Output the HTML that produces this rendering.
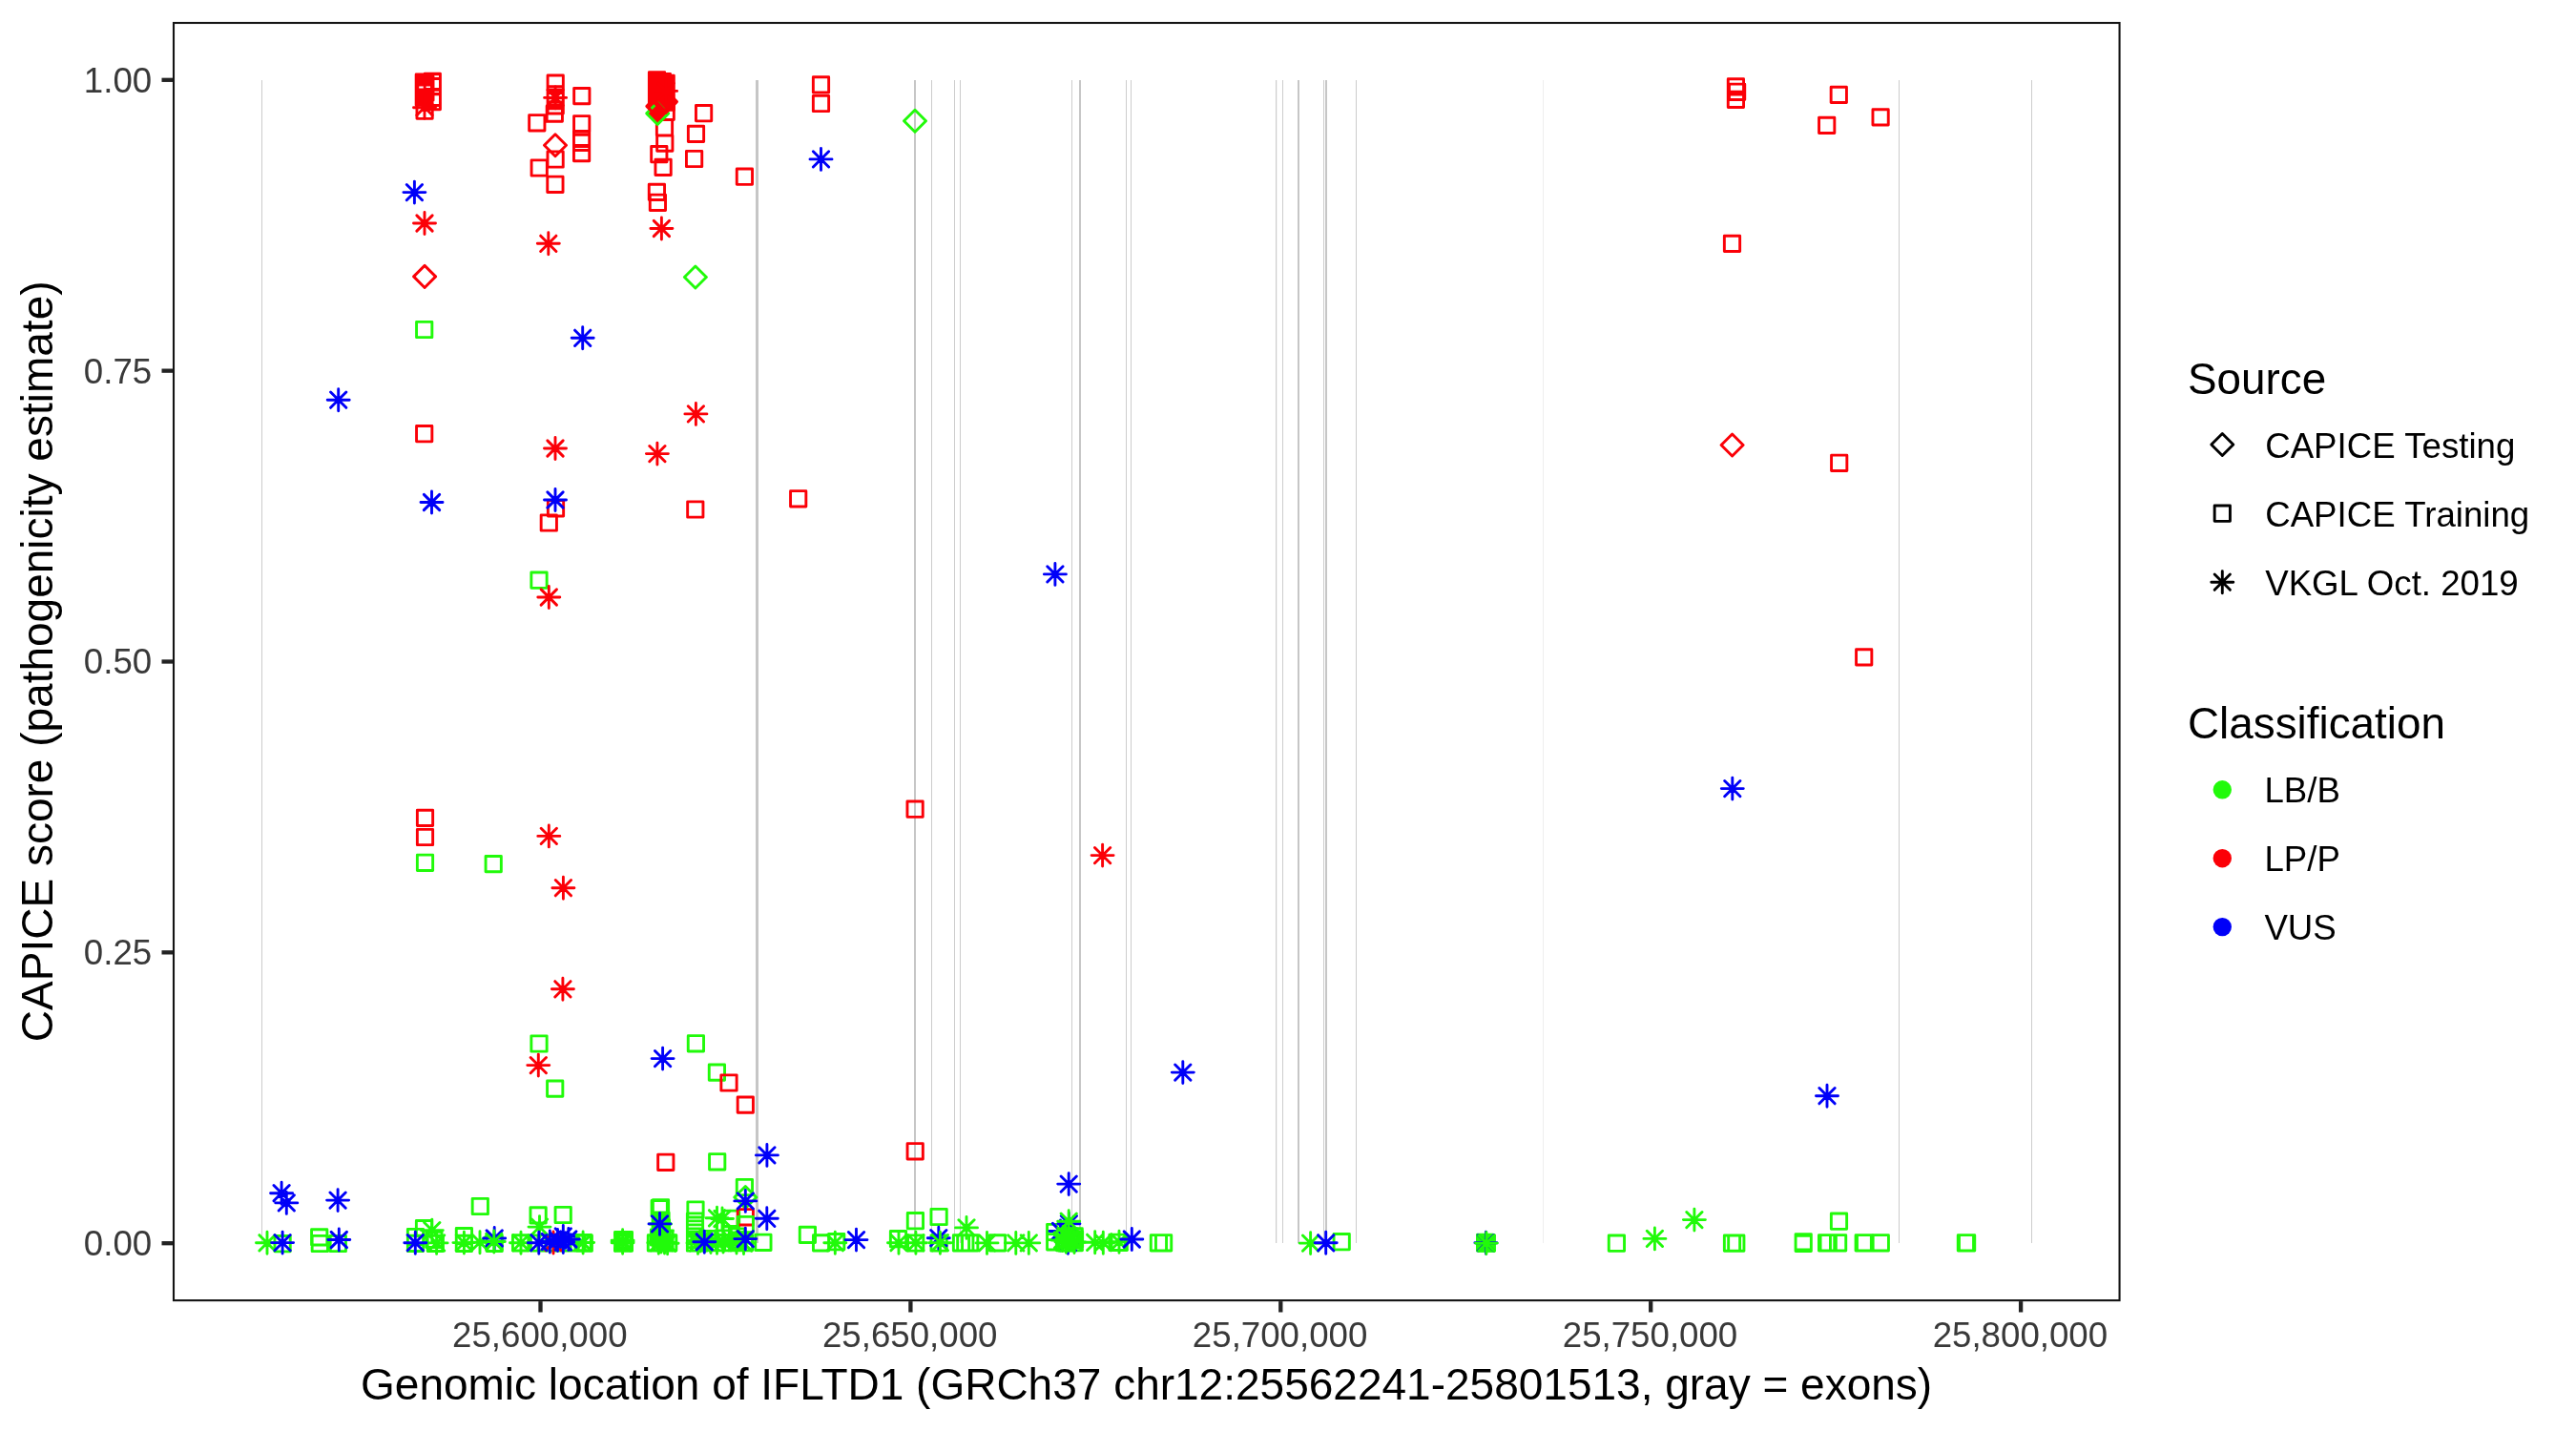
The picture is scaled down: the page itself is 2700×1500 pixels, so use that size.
<!DOCTYPE html><html><head><meta charset="utf-8"><title>CAPICE IFLTD1</title><style>html,body{margin:0;padding:0;background:#fff}svg{display:block;will-change:transform}text{font-family:"Liberation Sans",sans-serif}</style></head><body>
<svg width="2700" height="1500" viewBox="0 0 2700 1500">
<rect width="2700" height="1500" fill="#fff"/>
<rect x="274" y="84" width="1" height="1219" fill="#cccccc"/>
<rect x="792" y="84" width="3" height="1219" fill="#c6c6c6"/>
<rect x="958" y="84" width="2" height="1219" fill="#c6c6c6"/>
<rect x="976" y="84" width="1" height="1219" fill="#cccccc"/>
<rect x="1000" y="84" width="1" height="1219" fill="#cccccc"/>
<rect x="1006" y="84" width="1" height="1219" fill="#cccccc"/>
<rect x="1123" y="84" width="1" height="1219" fill="#cccccc"/>
<rect x="1131" y="84" width="2" height="1219" fill="#c6c6c6"/>
<rect x="1180" y="84" width="1" height="1219" fill="#cccccc"/>
<rect x="1185" y="84" width="1" height="1219" fill="#cccccc"/>
<rect x="1337" y="84" width="1" height="1219" fill="#cccccc"/>
<rect x="1338" y="84" width="1" height="1219" fill="#f4f4f4"/>
<rect x="1344" y="84" width="1" height="1219" fill="#cccccc"/>
<rect x="1360" y="84" width="2" height="1219" fill="#c6c6c6"/>
<rect x="1387" y="84" width="1" height="1219" fill="#cccccc"/>
<rect x="1389" y="84" width="2" height="1219" fill="#c6c6c6"/>
<rect x="1421" y="84" width="1" height="1219" fill="#cccccc"/>
<rect x="1617" y="84" width="1" height="1219" fill="#eeeeee"/>
<rect x="1990" y="84" width="1" height="1219" fill="#cccccc"/>
<rect x="2129" y="84" width="1" height="1219" fill="#cccccc"/>
<path d="M947.49 126.8L959 138.31L970.51 126.8L959 115.29zM717.39 290.5L728.9 302.01L740.41 290.5L728.9 278.99zM769.79 1255L781.3 1266.51L792.81 1255L781.3 1243.49z" fill="none" stroke="#21fa0a" stroke-width="2.9" stroke-linecap="round" stroke-linejoin="round"/>
<path d="M570.49 152.2L582 163.71L593.51 152.2L582 140.69zM433.59 289.9L445.1 301.41L456.61 289.9L445.1 278.39zM1804.09 466.5L1815.6 478.01L1827.11 466.5L1815.6 454.99z" fill="none" stroke="#fb0007" stroke-width="2.9" stroke-linecap="round" stroke-linejoin="round"/>
<rect x="1547" y="1293.2" width="20.8" height="19.4" rx="1.5" fill="#21fa0a"/>
<path d="M436.56 337.36h16.28v16.28h-16.28zM556.86 600.06h16.28v16.28h-16.28zM437.36 896.16h16.28v16.28h-16.28zM509.06 897.46h16.28v16.28h-16.28zM556.86 1085.86h16.28v16.28h-16.28zM573.56 1132.96h16.28v16.28h-16.28zM721.26 1085.66h16.28v16.28h-16.28zM743.26 1115.96h16.28v16.28h-16.28zM743.56 1209.66h16.28v16.28h-16.28zM772.26 1236.36h16.28v16.28h-16.28zM287.96 1295.56h16.28v16.28h-16.28zM326.56 1288.76h16.28v16.28h-16.28zM327.16 1295.36h16.28v16.28h-16.28zM346.16 1295.36h16.28v16.28h-16.28zM427.36 1288.36h16.28v16.28h-16.28zM427.36 1295.26h16.28v16.28h-16.28zM436.36 1279.46h16.28v16.28h-16.28zM448.16 1295.26h16.28v16.28h-16.28zM446.76 1291.26h16.28v16.28h-16.28zM478.26 1287.46h16.28v16.28h-16.28zM478.26 1295.26h16.28v16.28h-16.28zM495.16 1256.36h16.28v16.28h-16.28zM510.06 1295.26h16.28v16.28h-16.28zM537.46 1294.76h16.28v16.28h-16.28zM555.96 1265.76h16.28v16.28h-16.28zM582.06 1265.36h16.28v16.28h-16.28zM556.36 1294.86h16.28v16.28h-16.28zM563.86 1294.86h16.28v16.28h-16.28zM571.86 1294.86h16.28v16.28h-16.28zM581.86 1294.86h16.28v16.28h-16.28zM589.86 1294.86h16.28v16.28h-16.28zM596.86 1294.86h16.28v16.28h-16.28zM602.96 1294.36h16.28v16.28h-16.28zM604.16 1295.06h16.28v16.28h-16.28zM645.36 1293.36h16.28v16.28h-16.28zM684.36 1257.76h16.28v16.28h-16.28zM683.06 1258.46h16.28v16.28h-16.28zM684.86 1270.96h16.28v16.28h-16.28zM684.36 1275.86h16.28v16.28h-16.28zM679.26 1294.76h16.28v16.28h-16.28zM685.56 1294.76h16.28v16.28h-16.28zM692.56 1294.76h16.28v16.28h-16.28zM682.36 1288.86h16.28v16.28h-16.28zM688.86 1291.36h16.28v16.28h-16.28zM720.86 1259.86h16.28v16.28h-16.28zM720.36 1271.86h16.28v16.28h-16.28zM720.36 1275.86h16.28v16.28h-16.28zM720.36 1279.86h16.28v16.28h-16.28zM720.36 1283.86h16.28v16.28h-16.28zM720.36 1287.86h16.28v16.28h-16.28zM720.36 1294.86h16.28v16.28h-16.28zM724.86 1294.86h16.28v16.28h-16.28zM758.46 1269.16h16.28v16.28h-16.28zM743.36 1294.56h16.28v16.28h-16.28zM757.56 1294.56h16.28v16.28h-16.28zM758.06 1285.76h16.28v16.28h-16.28zM772.26 1294.56h16.28v16.28h-16.28zM749.86 1289.86h16.28v16.28h-16.28zM764.86 1291.86h16.28v16.28h-16.28zM791.76 1294.16h16.28v16.28h-16.28zM838.26 1286.26h16.28v16.28h-16.28zM852.46 1294.76h16.28v16.28h-16.28zM868.56 1293.56h16.28v16.28h-16.28zM933.36 1290.46h16.28v16.28h-16.28zM951.26 1271.56h16.28v16.28h-16.28zM951.56 1294.86h16.28v16.28h-16.28zM975.96 1267.36h16.28v16.28h-16.28zM975.96 1294.86h16.28v16.28h-16.28zM999.36 1294.76h16.28v16.28h-16.28zM1003.66 1294.76h16.28v16.28h-16.28zM1008.56 1294.76h16.28v16.28h-16.28zM1037.36 1294.76h16.28v16.28h-16.28zM1097.56 1283.36h16.28v16.28h-16.28zM1097.56 1293.66h16.28v16.28h-16.28zM1118.06 1287.76h16.28v16.28h-16.28zM1118.06 1294.56h16.28v16.28h-16.28zM1107.36 1294.56h16.28v16.28h-16.28zM1165.06 1294.16h16.28v16.28h-16.28zM1162.86 1294.16h16.28v16.28h-16.28zM1206.26 1294.66h16.28v16.28h-16.28zM1211.46 1294.66h16.28v16.28h-16.28zM1398.06 1293.56h16.28v16.28h-16.28zM1548.46 1294.26h16.28v16.28h-16.28zM1550.06 1295.06h16.28v16.28h-16.28zM1686.26 1295.06h16.28v16.28h-16.28zM1807.36 1294.96h16.28v16.28h-16.28zM1811.66 1294.96h16.28v16.28h-16.28zM1882.06 1293.66h16.28v16.28h-16.28zM1882.06 1295.26h16.28v16.28h-16.28zM1906.46 1294.66h16.28v16.28h-16.28zM1908.06 1294.66h16.28v16.28h-16.28zM1918.46 1294.66h16.28v16.28h-16.28zM1919.36 1272.06h16.28v16.28h-16.28zM1945.06 1294.66h16.28v16.28h-16.28zM1946.46 1294.66h16.28v16.28h-16.28zM1963.16 1294.66h16.28v16.28h-16.28zM2052.26 1294.66h16.28v16.28h-16.28zM2053.46 1294.66h16.28v16.28h-16.28zM729.86 1293.86h16.28v16.28h-16.28zM735.86 1290.36h16.28v16.28h-16.28zM764.36 1287.86h16.28v16.28h-16.28zM720.36 1291.36h16.28v16.28h-16.28zM684.06 1273.36h16.28v16.28h-16.28zM685.26 1278.36h16.28v16.28h-16.28zM684.06 1280.86h16.28v16.28h-16.28zM685.26 1283.36h16.28v16.28h-16.28zM684.06 1285.86h16.28v16.28h-16.28zM685.26 1288.36h16.28v16.28h-16.28zM684.66 1290.86h16.28v16.28h-16.28zM644.56 1291.46h16.28v16.28h-16.28zM646.26 1294.96h16.28v16.28h-16.28zM644.56 1294.96h16.28v16.28h-16.28zM646.26 1291.46h16.28v16.28h-16.28z" fill="none" stroke="#21fa0a" stroke-width="2.9" stroke-linecap="round" stroke-linejoin="round"/>
<path d="M436.16 77.96h16.28v16.28h-16.28zM437.76 80.16h16.28v16.28h-16.28zM436.16 82.36h16.28v16.28h-16.28zM437.76 84.56h16.28v16.28h-16.28zM436.16 86.76h16.28v16.28h-16.28zM437.76 89.06h16.28v16.28h-16.28zM436.16 94.06h16.28v16.28h-16.28zM445.16 77.16h16.28v16.28h-16.28zM445.16 77.86h16.28v16.28h-16.28zM445.16 82.46h16.28v16.28h-16.28zM445.16 94.26h16.28v16.28h-16.28zM445.16 98.46h16.28v16.28h-16.28zM436.96 108.06h16.28v16.28h-16.28zM574.06 79.06h16.28v16.28h-16.28zM574.06 90.66h16.28v16.28h-16.28zM574.06 93.86h16.28v16.28h-16.28zM574.06 96.16h16.28v16.28h-16.28zM574.06 97.56h16.28v16.28h-16.28zM574.06 102.71h16.28v16.28h-16.28zM573.16 110.96h16.28v16.28h-16.28zM554.66 120.66h16.28v16.28h-16.28zM601.66 92.46h16.28v16.28h-16.28zM601.56 121.66h16.28v16.28h-16.28zM601.46 137.36h16.28v16.28h-16.28zM601.46 141.26h16.28v16.28h-16.28zM601.46 152.46h16.28v16.28h-16.28zM573.96 158.86h16.28v16.28h-16.28zM557.06 167.86h16.28v16.28h-16.28zM573.76 185.16h16.28v16.28h-16.28zM690.06 109.26h16.28v16.28h-16.28zM688.36 125.66h16.28v16.28h-16.28zM688.66 141.96h16.28v16.28h-16.28zM682.66 153.56h16.28v16.28h-16.28zM686.96 167.16h16.28v16.28h-16.28zM680.26 193.26h16.28v16.28h-16.28zM681.26 204.16h16.28v16.28h-16.28zM729.46 110.56h16.28v16.28h-16.28zM721.36 132.26h16.28v16.28h-16.28zM719.46 158.36h16.28v16.28h-16.28zM852.36 80.76h16.28v16.28h-16.28zM852.36 100.36h16.28v16.28h-16.28zM772.26 177.06h16.28v16.28h-16.28zM1811.26 82.76h16.28v16.28h-16.28zM1812.46 88.16h16.28v16.28h-16.28zM1811.26 96.16h16.28v16.28h-16.28zM1919.16 91.26h16.28v16.28h-16.28zM1962.96 114.76h16.28v16.28h-16.28zM1906.56 123.26h16.28v16.28h-16.28zM1807.36 247.26h16.28v16.28h-16.28zM436.56 446.56h16.28v16.28h-16.28zM574.36 524.66h16.28v16.28h-16.28zM567.16 539.86h16.28v16.28h-16.28zM720.66 525.86h16.28v16.28h-16.28zM828.56 514.66h16.28v16.28h-16.28zM437.36 849.26h16.28v16.28h-16.28zM437.36 869.36h16.28v16.28h-16.28zM755.86 1126.86h16.28v16.28h-16.28zM773.16 1149.96h16.28v16.28h-16.28zM689.66 1210.16h16.28v16.28h-16.28zM773.16 1267.66h16.28v16.28h-16.28zM950.96 840.06h16.28v16.28h-16.28zM951.06 1198.66h16.28v16.28h-16.28zM1919.56 477.16h16.28v16.28h-16.28zM1945.56 680.76h16.28v16.28h-16.28z" fill="none" stroke="#fb0007" stroke-width="2.9" stroke-linecap="round" stroke-linejoin="round"/>
<path d="M773.16 1275.36h16.28v16.28h-16.28z" fill="none" stroke="#21fa0a" stroke-width="2.9" stroke-linecap="round" stroke-linejoin="round"/>
<path d="M679.2 118.9L689.2 128.9L699.2 118.9L689.2 108.9z" fill="#fb0007"/>
<path d="M677.69 118.9L689.2 130.41L700.71 118.9L689.2 107.39z" fill="none" stroke="#21fa0a" stroke-width="2.9" stroke-linecap="round" stroke-linejoin="round"/>
<path d="M686.49 106.6L698 118.11L709.51 106.6L698 95.09zM677.79 111.4L689.3 122.91L700.81 111.4L689.3 99.89z" fill="#fb0007" stroke="#fb0007" stroke-width="2.9" stroke-linejoin="round"/>
<path d="M680.36 75.66h16.28v16.28h-16.28zM680.36 77.86h16.28v16.28h-16.28zM680.36 80.06h16.28v16.28h-16.28zM680.36 82.26h16.28v16.28h-16.28zM680.36 84.46h16.28v16.28h-16.28zM680.36 86.66h16.28v16.28h-16.28zM680.36 88.86h16.28v16.28h-16.28zM680.36 91.06h16.28v16.28h-16.28zM680.36 93.26h16.28v16.28h-16.28zM686.26 77.56h16.28v16.28h-16.28zM686.26 79.76h16.28v16.28h-16.28zM686.26 81.96h16.28v16.28h-16.28zM686.26 84.16h16.28v16.28h-16.28zM686.26 86.36h16.28v16.28h-16.28zM686.26 88.56h16.28v16.28h-16.28zM686.26 90.76h16.28v16.28h-16.28zM686.26 92.96h16.28v16.28h-16.28zM686.26 95.16h16.28v16.28h-16.28zM690.06 79.26h16.28v16.28h-16.28zM690.06 81.46h16.28v16.28h-16.28zM690.06 83.66h16.28v16.28h-16.28zM690.06 85.86h16.28v16.28h-16.28zM690.06 88.06h16.28v16.28h-16.28zM690.06 90.26h16.28v16.28h-16.28zM690.06 92.46h16.28v16.28h-16.28zM690.06 94.66h16.28v16.28h-16.28zM690.06 96.86h16.28v16.28h-16.28zM690.06 99.06h16.28v16.28h-16.28z" fill="none" stroke="#fb0007" stroke-width="2.9" stroke-linecap="round" stroke-linejoin="round"/>
<path d="M682.7 113.9L686.3 110.3" stroke="#21fa0a" stroke-width="2.9" fill="none"/>
<path d="M690 106.4L696.7 113.6" stroke="#5fa000" stroke-width="0.7" fill="none"/>
<path d="M436.86 104.56L453.14 120.84M436.86 120.84L453.14 104.56M433.49 112.7H456.51M445 101.19V124.21M573.96 94.26L590.24 110.54M573.96 110.54L590.24 94.26M570.59 102.4H593.61M582.1 90.89V113.91M689.96 87.26L706.24 103.54M689.96 103.54L706.24 87.26M686.59 95.4H709.61M698.1 83.89V106.91M436.86 225.86L453.14 242.14M436.86 242.14L453.14 225.86M433.49 234H456.51M445 222.49V245.51M566.66 247.16L582.94 263.44M566.66 263.44L582.94 247.16M563.29 255.3H586.31M574.8 243.79V266.81M685.26 231.36L701.54 247.64M685.26 247.64L701.54 231.36M681.89 239.5H704.91M693.4 227.99V251.01M721.26 425.76L737.54 442.04M721.26 442.04L737.54 425.76M717.89 433.9H740.91M729.4 422.39V445.41M573.86 461.86L590.14 478.14M573.86 478.14L590.14 461.86M570.49 470H593.51M582 458.49V481.51M680.76 467.46L697.04 483.74M680.76 483.74L697.04 467.46M677.39 475.6H700.41M688.9 464.09V487.11M567.16 617.86L583.44 634.14M567.16 634.14L583.44 617.86M563.79 626H586.81M575.3 614.49V637.51M567.16 868.26L583.44 884.54M567.16 884.54L583.44 868.26M563.79 876.4H586.81M575.3 864.89V887.91M582.26 922.56L598.54 938.84M582.26 938.84L598.54 922.56M578.89 930.7H601.91M590.4 919.19V942.21M581.76 1028.66L598.04 1044.94M581.76 1044.94L598.04 1028.66M578.39 1036.8H601.41M589.9 1025.29V1048.31M556.16 1108.46L572.44 1124.74M556.16 1124.74L572.44 1108.46M552.79 1116.6H575.81M564.3 1105.09V1128.11M1147.46 888.46L1163.74 904.74M1147.46 904.74L1163.74 888.46M1144.09 896.6H1167.11M1155.6 885.09V908.11M571.86 1294.36L588.14 1310.64M571.86 1310.64L588.14 1294.36M568.49 1302.5H591.51M580 1290.99V1314.01" fill="none" stroke="#fb0007" stroke-width="2.9" stroke-linecap="round" stroke-linejoin="round"/>
<path d="M683.86 1274.86L700.14 1291.14M683.86 1291.14L700.14 1274.86M680.49 1283H703.51M692 1271.49V1294.51M685.86 1281.86L702.14 1298.14M685.86 1298.14L702.14 1281.86M682.49 1290H705.51M694 1278.49V1301.51M684.86 1293.36L701.14 1309.64M684.86 1309.64L701.14 1293.36M681.49 1301.5H704.51M693 1289.99V1313.01M688.36 1294.36L704.64 1310.64M688.36 1310.64L704.64 1294.36M684.99 1302.5H708.01M696.5 1290.99V1314.01M723.36 1294.76L739.64 1311.04M723.36 1311.04L739.64 1294.76M719.99 1302.9H743.01M731.5 1291.39V1314.41M725.86 1292.36L742.14 1308.64M725.86 1308.64L742.14 1292.36M722.49 1300.5H745.51M734 1288.99V1312.01M736.86 1293.86L753.14 1310.14M736.86 1310.14L753.14 1293.86M733.49 1302H756.51M745 1290.49V1313.51M749.86 1293.36L766.14 1309.64M749.86 1309.64L766.14 1293.36M746.49 1301.5H769.51M758 1289.99V1313.01M757.86 1291.36L774.14 1307.64M757.86 1307.64L774.14 1291.36M754.49 1299.5H777.51M766 1287.99V1311.01M763.86 1294.36L780.14 1310.64M763.86 1310.64L780.14 1294.36M760.49 1302.5H783.51M772 1290.99V1314.01M644.46 1292.16L660.74 1308.44M644.46 1308.44L660.74 1292.16M641.09 1300.3H664.11M652.6 1288.79V1311.81M644.46 1294.66L660.74 1310.94M644.46 1310.94L660.74 1294.66M641.09 1302.8H664.11M652.6 1291.29V1314.31M271.86 1294.66L288.14 1310.94M271.86 1310.94L288.14 1294.66M268.49 1302.8H291.51M280 1291.29V1314.31M444.66 1281.46L460.94 1297.74M444.66 1297.74L460.94 1281.46M441.29 1289.6H464.31M452.8 1278.09V1301.11M449.46 1294.76L465.74 1311.04M449.46 1311.04L465.74 1294.76M446.09 1302.9H469.11M457.6 1291.39V1314.41M478.26 1294.46L494.54 1310.74M478.26 1310.74L494.54 1294.46M474.89 1302.6H497.91M486.4 1291.09V1314.11M494.86 1294.06L511.14 1310.34M494.86 1310.34L511.14 1294.06M491.49 1302.2H514.51M503 1290.69V1313.71M537.86 1294.56L554.14 1310.84M537.86 1310.84L554.14 1294.56M534.49 1302.7H557.51M546 1291.19V1314.21M557.36 1277.96L573.64 1294.24M557.36 1294.24L573.64 1277.96M553.99 1286.1H577.01M565.5 1274.59V1297.61M602.96 1294.36L619.24 1310.64M602.96 1310.64L619.24 1294.36M599.59 1302.5H622.61M611.1 1290.99V1314.01M644.46 1293.36L660.74 1309.64M644.46 1309.64L660.74 1293.36M641.09 1301.5H664.11M652.6 1289.99V1313.01M682.16 1294.56L698.44 1310.84M682.16 1310.84L698.44 1294.56M678.79 1302.7H701.81M690.3 1291.19V1314.21M691.46 1295.06L707.74 1311.34M691.46 1311.34L707.74 1295.06M688.09 1303.2H711.11M699.6 1291.69V1314.71M743.36 1268.66L759.64 1284.94M743.36 1284.94L759.64 1268.66M739.99 1276.8H763.01M751.5 1265.29V1288.31M748.86 1269.36L765.14 1285.64M748.86 1285.64L765.14 1269.36M745.49 1277.5H768.51M757 1265.99V1289.01M743.36 1294.56L759.64 1310.84M743.36 1310.84L759.64 1294.56M739.99 1302.7H763.01M751.5 1291.19V1314.21M771.36 1294.86L787.64 1311.14M771.36 1311.14L787.64 1294.86M767.99 1303H791.01M779.5 1291.49V1314.51M867.16 1294.56L883.44 1310.84M867.16 1310.84L883.44 1294.56M863.79 1302.7H886.81M875.3 1291.19V1314.21M933.86 1294.56L950.14 1310.84M933.86 1310.84L950.14 1294.56M930.49 1302.7H953.51M942 1291.19V1314.21M951.76 1294.56L968.04 1310.84M951.76 1310.84L968.04 1294.56M948.39 1302.7H971.41M959.9 1291.19V1314.21M1004.86 1278.76L1021.14 1295.04M1004.86 1295.04L1021.14 1278.76M1001.49 1286.9H1024.51M1013 1275.39V1298.41M1026.36 1294.76L1042.64 1311.04M1026.36 1311.04L1042.64 1294.76M1022.99 1302.9H1046.01M1034.5 1291.39V1314.41M1056.66 1294.76L1072.94 1311.04M1056.66 1311.04L1072.94 1294.76M1053.29 1302.9H1076.31M1064.8 1291.39V1314.41M1070.16 1294.76L1086.44 1311.04M1070.16 1311.04L1086.44 1294.76M1066.79 1302.9H1089.81M1078.3 1291.39V1314.41M1139.56 1294.16L1155.84 1310.44M1139.56 1310.44L1155.84 1294.16M1136.19 1302.3H1159.21M1147.7 1290.79V1313.81M1148.16 1294.56L1164.44 1310.84M1148.16 1310.84L1164.44 1294.56M1144.79 1302.7H1167.81M1156.3 1291.19V1314.21M1164.86 1293.66L1181.14 1309.94M1164.86 1309.94L1181.14 1293.66M1161.49 1301.8H1184.51M1173 1290.29V1313.31M1365.46 1294.96L1381.74 1311.24M1365.46 1311.24L1381.74 1294.96M1362.09 1303.1H1385.11M1373.6 1291.59V1314.61M1726.26 1290.26L1742.54 1306.54M1726.26 1306.54L1742.54 1290.26M1722.89 1298.4H1745.91M1734.4 1286.89V1309.91M1767.76 1270.46L1784.04 1286.74M1767.76 1286.74L1784.04 1270.46M1764.39 1278.6H1787.41M1775.9 1267.09V1290.11" fill="none" stroke="#21fa0a" stroke-width="2.9" stroke-linecap="round" stroke-linejoin="round"/>
<path d="M426.26 193.46L442.54 209.74M426.26 209.74L442.54 193.46M422.89 201.6H445.91M434.4 190.09V213.11M852.36 158.76L868.64 175.04M852.36 175.04L868.64 158.76M848.99 166.9H872.01M860.5 155.39V178.41M602.56 346.16L618.84 362.44M602.56 362.44L618.84 346.16M599.19 354.3H622.21M610.7 342.79V365.81M346.56 411.06L362.84 427.34M346.56 427.34L362.84 411.06M343.19 419.2H366.21M354.7 407.69V430.71M444.36 518.36L460.64 534.64M444.36 534.64L460.64 518.36M440.99 526.5H464.01M452.5 514.99V538.01M573.86 515.86L590.14 532.14M573.86 532.14L590.14 515.86M570.49 524H593.51M582 512.49V535.51M1097.76 593.76L1114.04 610.04M1097.76 610.04L1114.04 593.76M1094.39 601.9H1117.41M1105.9 590.39V613.41M1807.66 818.46L1823.94 834.74M1807.66 834.74L1823.94 818.46M1804.29 826.6H1827.31M1815.8 815.09V838.11M686.46 1101.46L702.74 1117.74M686.46 1117.74L702.74 1101.46M683.09 1109.6H706.11M694.6 1098.09V1121.11M795.76 1202.76L812.04 1219.04M795.76 1219.04L812.04 1202.76M792.39 1210.9H815.41M803.9 1199.39V1222.41M1231.66 1115.96L1247.94 1132.24M1231.66 1132.24L1247.94 1115.96M1228.29 1124.1H1251.31M1239.8 1112.59V1135.61M1906.86 1140.56L1923.14 1156.84M1906.86 1156.84L1923.14 1140.56M1903.49 1148.7H1926.51M1915 1137.19V1160.21M286.96 1242.56L303.24 1258.84M286.96 1258.84L303.24 1242.56M283.59 1250.7H306.61M295.1 1239.19V1262.21M292.16 1252.76L308.44 1269.04M292.16 1269.04L308.44 1252.76M288.79 1260.9H311.81M300.3 1249.39V1272.41M345.96 1249.96L362.24 1266.24M345.96 1266.24L362.24 1249.96M342.59 1258.1H365.61M354.1 1246.59V1269.61M287.96 1294.46L304.24 1310.74M287.96 1310.74L304.24 1294.46M284.59 1302.6H307.61M296.1 1291.09V1314.11M347.16 1291.36L363.44 1307.64M347.16 1307.64L363.44 1291.36M343.79 1299.5H366.81M355.3 1287.99V1311.01M427.16 1294.56L443.44 1310.84M427.16 1310.84L443.44 1294.56M423.79 1302.7H446.81M435.3 1291.19V1314.21M510.06 1289.86L526.34 1306.14M510.06 1306.14L526.34 1289.86M506.69 1298H529.71M518.2 1286.49V1309.51M556.66 1294.56L572.94 1310.84M556.66 1310.84L572.94 1294.56M553.29 1302.7H576.31M564.8 1291.19V1314.21M568.16 1293.36L584.44 1309.64M568.16 1309.64L584.44 1293.36M564.79 1301.5H587.81M576.3 1289.99V1313.01M576.36 1291.86L592.64 1308.14M576.36 1308.14L592.64 1291.86M572.99 1300H596.01M584.5 1288.49V1311.51M582.16 1287.76L598.44 1304.04M582.16 1304.04L598.44 1287.76M578.79 1295.9H601.81M590.3 1284.39V1307.41M582.16 1293.86L598.44 1310.14M582.16 1310.14L598.44 1293.86M578.79 1302H601.81M590.3 1290.49V1313.51M587.66 1290.86L603.94 1307.14M587.66 1307.14L603.94 1290.86M584.29 1299H607.31M595.8 1287.49V1310.51M683.36 1274.76L699.64 1291.04M683.36 1291.04L699.64 1274.76M679.99 1282.9H703.01M691.5 1271.39V1294.41M730.16 1293.66L746.44 1309.94M730.16 1309.94L746.44 1293.66M726.79 1301.8H749.81M738.3 1290.29V1313.31M773.16 1250.76L789.44 1267.04M773.16 1267.04L789.44 1250.76M769.79 1258.9H792.81M781.3 1247.39V1270.41M795.66 1269.16L811.94 1285.44M795.66 1285.44L811.94 1269.16M792.29 1277.3H815.31M803.8 1265.79V1288.81M773.16 1290.46L789.44 1306.74M773.16 1306.74L789.44 1290.46M769.79 1298.6H792.81M781.3 1287.09V1310.11M889.36 1291.46L905.64 1307.74M889.36 1307.74L905.64 1291.46M885.99 1299.6H909.01M897.5 1288.09V1311.11M975.66 1289.56L991.94 1305.84M975.66 1305.84L991.94 1289.56M972.29 1297.7H995.31M983.8 1286.19V1309.21M1112.06 1232.96L1128.34 1249.24M1112.06 1249.24L1128.34 1232.96M1108.69 1241.1H1131.71M1120.2 1229.59V1252.61M1112.26 1274.56L1128.54 1290.84M1112.26 1290.84L1128.54 1274.56M1108.89 1282.7H1131.91M1120.4 1271.19V1294.21M1103.36 1282.36L1119.64 1298.64M1103.36 1298.64L1119.64 1282.36M1099.99 1290.5H1123.01M1111.5 1278.99V1302.01M1111.26 1294.56L1127.54 1310.84M1111.26 1310.84L1127.54 1294.56M1107.89 1302.7H1130.91M1119.4 1291.19V1314.21M1178.16 1290.86L1194.44 1307.14M1178.16 1307.14L1194.44 1290.86M1174.79 1299H1197.81M1186.3 1287.49V1310.51M1381.56 1294.66L1397.84 1310.94M1381.56 1310.94L1397.84 1294.66M1378.19 1302.8H1401.21M1389.7 1291.29V1314.31M1549.26 1294.66L1565.54 1310.94M1549.26 1310.94L1565.54 1294.66M1545.89 1302.8H1568.91M1557.4 1291.29V1314.31" fill="none" stroke="#0000f8" stroke-width="2.9" stroke-linecap="round" stroke-linejoin="round"/>
<path d="M1112.86 1287.86h16.28v16.28h-16.28zM1115.86 1291.86h16.28v16.28h-16.28zM1109.86 1294.86h16.28v16.28h-16.28zM1118.36 1290.86h16.28v16.28h-16.28zM1107.86 1289.86h16.28v16.28h-16.28z" fill="none" stroke="#21fa0a" stroke-width="2.9" stroke-linecap="round" stroke-linejoin="round"/>
<path d="M1108.86 1286.86L1125.14 1303.14M1108.86 1303.14L1125.14 1286.86M1105.49 1295H1128.51M1117 1283.49V1306.51M1113.86 1290.86L1130.14 1307.14M1113.86 1307.14L1130.14 1290.86M1110.49 1299H1133.51M1122 1287.49V1310.51M1117.86 1293.86L1134.14 1310.14M1117.86 1310.14L1134.14 1293.86M1114.49 1302H1137.51M1126 1290.49V1313.51M1105.36 1291.86L1121.64 1308.14M1105.36 1308.14L1121.64 1291.86M1101.99 1300H1125.01M1113.5 1288.49V1311.51M509.66 1293.36L525.94 1309.64M509.66 1309.64L525.94 1293.36M506.29 1301.5H529.31M517.8 1289.99V1313.01M977.26 1294.56L993.54 1310.84M977.26 1310.84L993.54 1294.56M973.89 1302.7H996.91M985.4 1291.19V1314.21M1112.06 1272.06L1128.34 1288.34M1112.06 1288.34L1128.34 1272.06M1108.69 1280.2H1131.71M1120.2 1268.69V1291.71M1109.26 1293.66L1125.54 1309.94M1109.26 1309.94L1125.54 1293.66M1105.89 1301.8H1128.91M1117.4 1290.29V1313.31M1549.76 1294.96L1566.04 1311.24M1549.76 1311.24L1566.04 1294.96M1546.39 1303.1H1569.41M1557.9 1291.59V1314.61" fill="none" stroke="#21fa0a" stroke-width="2.9" stroke-linecap="round" stroke-linejoin="round"/>
<rect x="182.0" y="24.0" width="2039.55" height="1339.1" fill="none" stroke="#141414" stroke-width="2.1"/>
<rect x="169.5" y="81.65" width="11.6" height="4.3" fill="#232323"/>
<text x="159.2" y="96.7" font-size="36.67" fill="#393939" text-anchor="end">1.00</text>
<rect x="169.5" y="386.5" width="11.6" height="4.3" fill="#232323"/>
<text x="159.2" y="401.55" font-size="36.67" fill="#393939" text-anchor="end">0.75</text>
<rect x="169.5" y="691.35" width="11.6" height="4.3" fill="#232323"/>
<text x="159.2" y="706.4" font-size="36.67" fill="#393939" text-anchor="end">0.50</text>
<rect x="169.5" y="996.2" width="11.6" height="4.3" fill="#232323"/>
<text x="159.2" y="1011.25" font-size="36.67" fill="#393939" text-anchor="end">0.25</text>
<rect x="169.5" y="1301.05" width="11.6" height="4.3" fill="#232323"/>
<text x="159.2" y="1316.1" font-size="36.67" fill="#393939" text-anchor="end">0.00</text>
<rect x="564.35" y="1364.1" width="4.3" height="11.4" fill="#232323"/>
<text x="565.8" y="1412.3" font-size="36.67" fill="#393939" text-anchor="middle">25,600,000</text>
<rect x="952.25" y="1364.1" width="4.3" height="11.4" fill="#232323"/>
<text x="953.7" y="1412.3" font-size="36.67" fill="#393939" text-anchor="middle">25,650,000</text>
<rect x="1340.15" y="1364.1" width="4.3" height="11.4" fill="#232323"/>
<text x="1341.6" y="1412.3" font-size="36.67" fill="#393939" text-anchor="middle">25,700,000</text>
<rect x="1728.05" y="1364.1" width="4.3" height="11.4" fill="#232323"/>
<text x="1729.5" y="1412.3" font-size="36.67" fill="#393939" text-anchor="middle">25,750,000</text>
<rect x="2115.95" y="1364.1" width="4.3" height="11.4" fill="#232323"/>
<text x="2117.4" y="1412.3" font-size="36.67" fill="#393939" text-anchor="middle">25,800,000</text>
<text x="1201.6" y="1467.0" font-size="46" fill="#000" text-anchor="middle">Genomic location of IFLTD1 (GRCh37 chr12:25562241-25801513, gray = exons)</text>
<text transform="translate(55.3,693.3) rotate(-90)" font-size="46" fill="#000" text-anchor="middle">CAPICE score (pathogenicity estimate)</text>
<text x="2293.0" y="412.6" font-size="45.83" fill="#000">Source</text>
<path d="M2317.79 466L2329.3 477.51L2340.81 466L2329.3 454.49z" fill="none" stroke="#000" stroke-width="2.9" stroke-linejoin="round"/>
<path d="M2321.16 530.06h16.28v16.28h-16.28z" fill="none" stroke="#000" stroke-width="2.9" stroke-linejoin="round"/>
<path d="M2321.16 602.06L2337.44 618.34M2321.16 618.34L2337.44 602.06M2317.79 610.2H2340.81M2329.3 598.69V621.71" fill="none" stroke="#000" stroke-width="2.9" stroke-linecap="round"/>
<text x="2374.2" y="479.9" font-size="36.67" fill="#000">CAPICE Testing</text>
<text x="2374.2" y="551.8" font-size="36.67" fill="#000">CAPICE Training</text>
<text x="2374.2" y="623.8" font-size="36.67" fill="#000">VKGL Oct. 2019</text>
<text x="2293.0" y="773.9" font-size="45.83" fill="#000">Classification</text>
<circle cx="2329.3" cy="827.8" r="9.7" fill="#21fa0a"/>
<text x="2373.4" y="841.2" font-size="36.67" fill="#000">LB/B</text>
<circle cx="2329.3" cy="899.7" r="9.7" fill="#fb0007"/>
<text x="2373.4" y="913.1" font-size="36.67" fill="#000">LP/P</text>
<circle cx="2329.3" cy="971.6" r="9.7" fill="#0000f8"/>
<text x="2373.4" y="985" font-size="36.67" fill="#000">VUS</text>
</svg></body></html>
